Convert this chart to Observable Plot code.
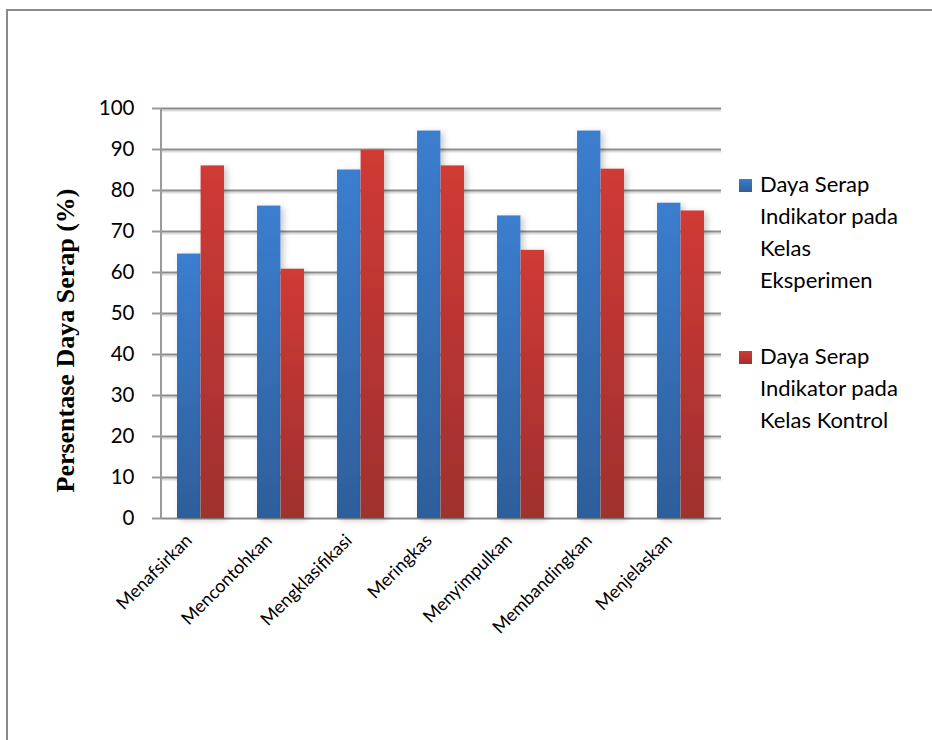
<!DOCTYPE html>
<html>
<head>
<meta charset="utf-8">
<script src="https://cdn.jsdelivr.net/npm/d3@7"></script>
<script src="https://cdn.jsdelivr.net/npm/@observablehq/plot@0.6"></script>
<style>
  body { margin: 0; background: #fff; }
  #wrap { position: relative; width: 932px; height: 740px; overflow: hidden; background: #fff; }
  #frame { position: absolute; left: 6px; top: 9px; width: 1000px; height: 1000px;
           border-left: 2px solid #8a8a8a; border-top: 2px solid #8a8a8a; }
  #chart { position: absolute; left: 0; top: 0; }
  #legend { position: absolute; left: 738px; top: 0; font-family: Lato, sans-serif; font-size: 22px;
            color: #000; }
  .item { position: absolute; left: 0; width: 190px; line-height: 32px; }
  .sw { position: absolute; left: 1px; width: 13px; height: 13px; }
  .txt { position: absolute; left: 22px; white-space: nowrap; }
</style>
</head>
<body>
<div id="wrap">
  <div id="frame"></div>
  <div id="chart"></div>
  <div id="legend"></div>
</div>
<script>
const categories = ["Menafsirkan", "Mencontohkan", "Mengklasifikasi", "Meringkas", "Menyimpulkan", "Membandingkan", "Menjelaskan"];
const eksperimen = [64.5, 76.2, 85.0, 94.5, 73.8, 94.5, 76.9];
const kontrol = [86.0, 60.8, 89.8, 86.0, 65.4, 85.2, 75.0];
const seriesNames = ["Daya Serap Indikator pada Kelas Eksperimen", "Daya Serap Indikator pada Kelas Kontrol"];
const legendLines = [["Daya Serap", "Indikator pada", "Kelas", "Eksperimen"], ["Daya Serap", "Indikator pada", "Kelas Kontrol"]];
const yTicks = [0, 10, 20, 30, 40, 50, 60, 70, 80, 90, 100];
const yTitle = "Persentase Daya Serap (%)";

const rows = categories.map((c, i) => ({cat: c, eks: eksperimen[i], kon: kontrol[i]}));

const paddingInner = 0.41, paddingOuter = 0.205;
const plotW = 932 - 161 - 211;
const step = plotW / (categories.length - paddingInner + 2 * paddingOuter);
const half = step * (1 - paddingInner) / 2;

const chart = Plot.plot({
  width: 932,
  height: 740,
  marginLeft: 161,
  marginRight: 211,
  marginTop: 108,
  marginBottom: 222,
  style: {fontFamily: "Lato, sans-serif", background: "transparent", color: "#000"},
  x: {domain: categories, paddingInner, paddingOuter, label: null},
  y: {domain: [0, 100], label: null},
  marks: [
    Plot.ruleY(yTicks.slice(1), {stroke: "#dcdcdc", strokeWidth: 2, dy: 2}),
    Plot.ruleY(yTicks, {stroke: "#8c8c8c", strokeWidth: 2}),
    Plot.barY(rows, {x: "cat", y: "eks", fill: "url(#gBlue)", insetRight: half, insetLeft: 0}),
    Plot.barY(rows, {x: "cat", y: "kon", fill: "url(#gRed)", insetLeft: half, insetRight: 0}),
    Plot.ruleX([categories[0]], {stroke: "#9a9a9a", strokeWidth: 2, dx: -step / 2, y1: 0, y2: 100}),
    Plot.axisY({ticks: yTicks, tickSize: 9, tickPadding: 18, fontSize: 20.5, stroke: "#9a9a9a", strokeWidth: 2, fill: "#000", label: null}),
    Plot.axisX({tickSize: 0, tickRotate: -45, tickPadding: 14, fontSize: 18, fill: "#000", dx: -12, dy: 5, label: null}),
    Plot.text([yTitle], {frameAnchor: "left", textAnchor: "middle", dx: -96, dy: 27, rotate: -90, fontFamily: "Liberation Serif, Times New Roman, serif", fontWeight: "bold", fontSize: 26, fill: "#000"})
  ]
});

// gradients & shadow
const ns = "http://www.w3.org/2000/svg";
const defs = document.createElementNS(ns, "defs");
defs.innerHTML = `
  <linearGradient id="gBlue" x1="0" y1="0" x2="0" y2="1" gradientUnits="objectBoundingBox">
    <stop offset="0" stop-color="#3b7ecf"/><stop offset="1" stop-color="#2e5e9b"/>
  </linearGradient>
  <linearGradient id="gRed" x1="0" y1="0" x2="0" y2="1">
    <stop offset="0" stop-color="#d03a36"/><stop offset="1" stop-color="#9f302e"/>
  </linearGradient>
  <filter id="shadow" x="-20%" y="-10%" width="150%" height="130%">
    <feDropShadow dx="3" dy="2" stdDeviation="3" flood-color="#000" flood-opacity="0.22"/>
  </filter>`;
chart.insertBefore(defs, chart.firstChild);
chart.querySelectorAll('g[aria-label="bar"]').forEach(g => g.setAttribute("filter", "url(#shadow)"));
document.getElementById("chart").appendChild(chart);

// legend
const legend = document.getElementById("legend");
const colors = ["linear-gradient(#3b7ecf,#2e5e9b)", "linear-gradient(#d03a36,#9f302e)"];
const tops = [168, 340];
seriesNames.forEach((name, i) => {
  const item = document.createElement("div");
  item.className = "item";
  item.style.top = tops[i] + "px";
  item.title = name;
  const sw = document.createElement("div");
  sw.className = "sw";
  sw.style.top = "11px";
  sw.style.background = colors[i];
  item.appendChild(sw);
  const txt = document.createElement("div");
  txt.className = "txt";
  txt.innerHTML = legendLines[i].join("<br>");
  item.appendChild(txt);
  legend.appendChild(item);
});
</script>
</body>
</html>
